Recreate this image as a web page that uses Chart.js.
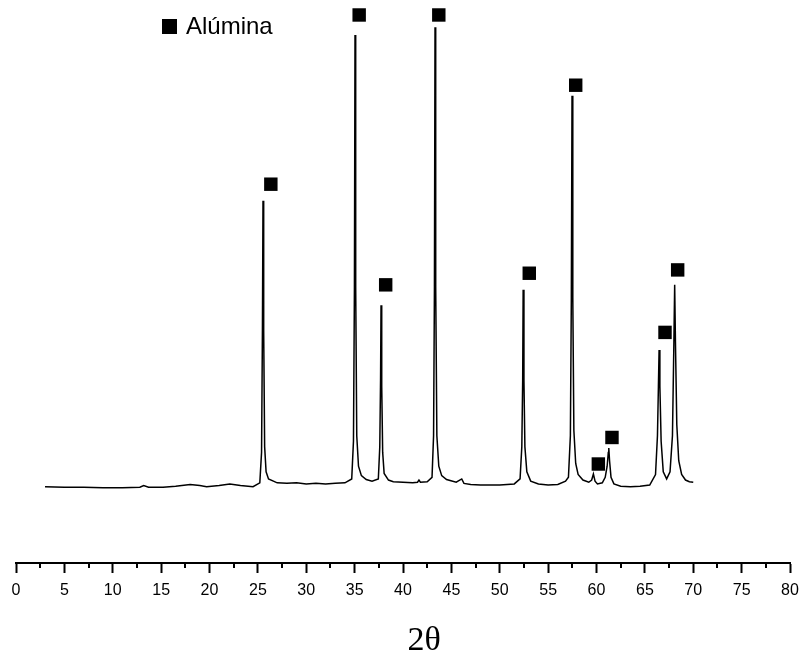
<!DOCTYPE html>
<html>
<head>
<meta charset="utf-8">
<script src="https://cdn.jsdelivr.net/npm/chart.js@4.4.1/dist/chart.umd.min.js"></script>
<style>
html,body{margin:0;padding:0;background:#fff;}
#wrap{position:relative;width:801px;height:656px;}
#legendBox{position:absolute;left:162px;top:19px;width:15px;height:15px;background:#000;}
#legendText{position:absolute;left:186px;top:14px;font-family:"Liberation Sans",Arial,sans-serif;font-size:24px;line-height:24px;color:#000;white-space:nowrap;}
</style>
</head>
<body>
<div id="wrap">
<canvas id="c" width="801" height="656"></canvas>
<div id="legendBox"></div>
<div id="legendText">Alúmina</div>
</div>
<script>
// 2θ positions (degrees) of the measured pattern
const twoTheta = [3.0,5,7,9,11,12.8,13.2,13.7,15.2,16.5,18.0,19.0,19.7,21,22.1,23.2,24.5,
  25.2,25.38,25.47,25.53,25.6,25.7,25.85,26.1,27,28,29,30,31,32,33,34,
  34.7,34.88,34.98,35.04,35.11,35.22,35.4,35.7,36.2,36.8,
  37.45,37.6,37.68,37.73,37.8,37.9,38.05,38.5,39,40,41,41.5,41.65,41.8,42.5,
  43.0,43.16,43.25,43.31,43.38,43.5,43.7,44.0,44.5,45.5,46.07,46.3,47,48,50,51.5,
  52.1,52.28,52.37,52.42,52.5,52.6,52.8,53.2,54,55,56,
  56.8,57.1,57.3,57.4,57.47,57.55,57.66,57.85,58.1,58.6,59.2,
  59.5,59.68,59.85,60.1,60.6,60.9,61.1,61.22,61.27,61.35,61.5,61.8,62.5,63.5,64.5,65.5,
  66.1,66.3,66.4,66.47,66.55,66.68,66.9,67.25,67.6,67.85,68.0,68.08,68.16,68.3,68.5,68.8,69.2,69.6,70.0];
// intensity (arbitrary units)
const intensity = [138,137,137,136,136,137,140,137,137,139,142,140,138,140,143,140,138,
  145,200,420,655,420,210,165,152,145,144,145,143,144,143,144,145,
  152,220,500,955,500,230,175,158,151,148,
  152,210,330,466,320,200,162,150,147,146,145,146,150,146,147,
  155,230,500,969,500,230,175,158,151,146,152,144,142,141,141,143,
  152,210,330,494,330,210,165,148,143,141,142,
  148,155,230,480,845,480,240,180,160,150,146,
  150,161,148,143,145,155,175,200,208,185,155,143,139,138,139,141,
  160,230,320,385,320,220,165,152,165,230,400,503,400,250,185,160,150,147,146];
// alumina reflection markers
const markerTheta = [26.34,35.47,38.21,43.70,53.05,57.85,60.19,61.60,67.08,68.39];
const markerIntensity = [685,991,503,991,524,864,179,227,417,530];
// axis tick labels
const majorTicks = [0,5,10,15,20,25,30,35,40,45,50,55,60,65,70,75,80];
const seriesLabel = 'Alúmina';
const axisTitle = '2θ';

const pattern = twoTheta.map((t,i)=>({x:t,y:intensity[i]}));
const markers = markerTheta.map((t,i)=>({x:t,y:markerIntensity[i]}));

const minorTicks = {
  id:'minorTicks',
  afterDraw(chart){
    const s = chart.scales.x, ctx = chart.ctx;
    ctx.save();
    ctx.strokeStyle = '#000'; ctx.lineWidth = 2;
    s.ticks.forEach(t=>{
      if (!majorTicks.includes(t.value)) {
        const px = Math.round(s.getPixelForValue(t.value));
        ctx.beginPath(); ctx.moveTo(px, s.top); ctx.lineTo(px, s.top+5); ctx.stroke();
      }
    });
    ctx.restore();
  }
};

new Chart(document.getElementById('c'), {
  data:{
    datasets:[
      {type:'line', label:'XRD', data:pattern, borderColor:'#000', borderWidth:1.5, pointRadius:0, tension:0, fill:false},
      {type:'scatter', label:seriesLabel, data:markers, pointStyle:'rect', pointRadius:9.5, backgroundColor:'#000', borderColor:'#000', borderWidth:0, clip:false}
    ]
  },
  options:{
    responsive:false, animation:false, events:[],
    layout:{padding:{left:16,right:11,top:10,bottom:0}},
    plugins:{legend:{display:false}, tooltip:{enabled:false}},
    scales:{
      x:{type:'linear', min:0, max:80,
        afterFit:(s)=>{ s.paddingLeft = 0; s.paddingRight = 0; },
        border:{display:true, color:'#000', width:2},
        grid:{drawOnChartArea:false, tickLength:10, tickWidth:2,
          tickColor:(c)=> majorTicks.includes(c.tick.value) ? '#000' : 'rgba(0,0,0,0)'},
        ticks:{stepSize:2.5, autoSkip:false, maxRotation:0, padding:8, color:'#000',
          font:{family:'"Liberation Sans", Arial, sans-serif', size:16},
          callback:(v)=> majorTicks.includes(v) ? String(v) : ''},
        title:{display:true, text:'\u2003 ' + axisTitle, color:'#000',
          font:{family:'"Liberation Serif", "Times New Roman", serif', size:34, lineHeight:0.9},
          padding:{top:17.2, bottom:0}}
      },
      y:{type:'linear', display:false, min:0, max:1000}
    }
  },
  plugins:[minorTicks]
});
</script>
</body>
</html>
